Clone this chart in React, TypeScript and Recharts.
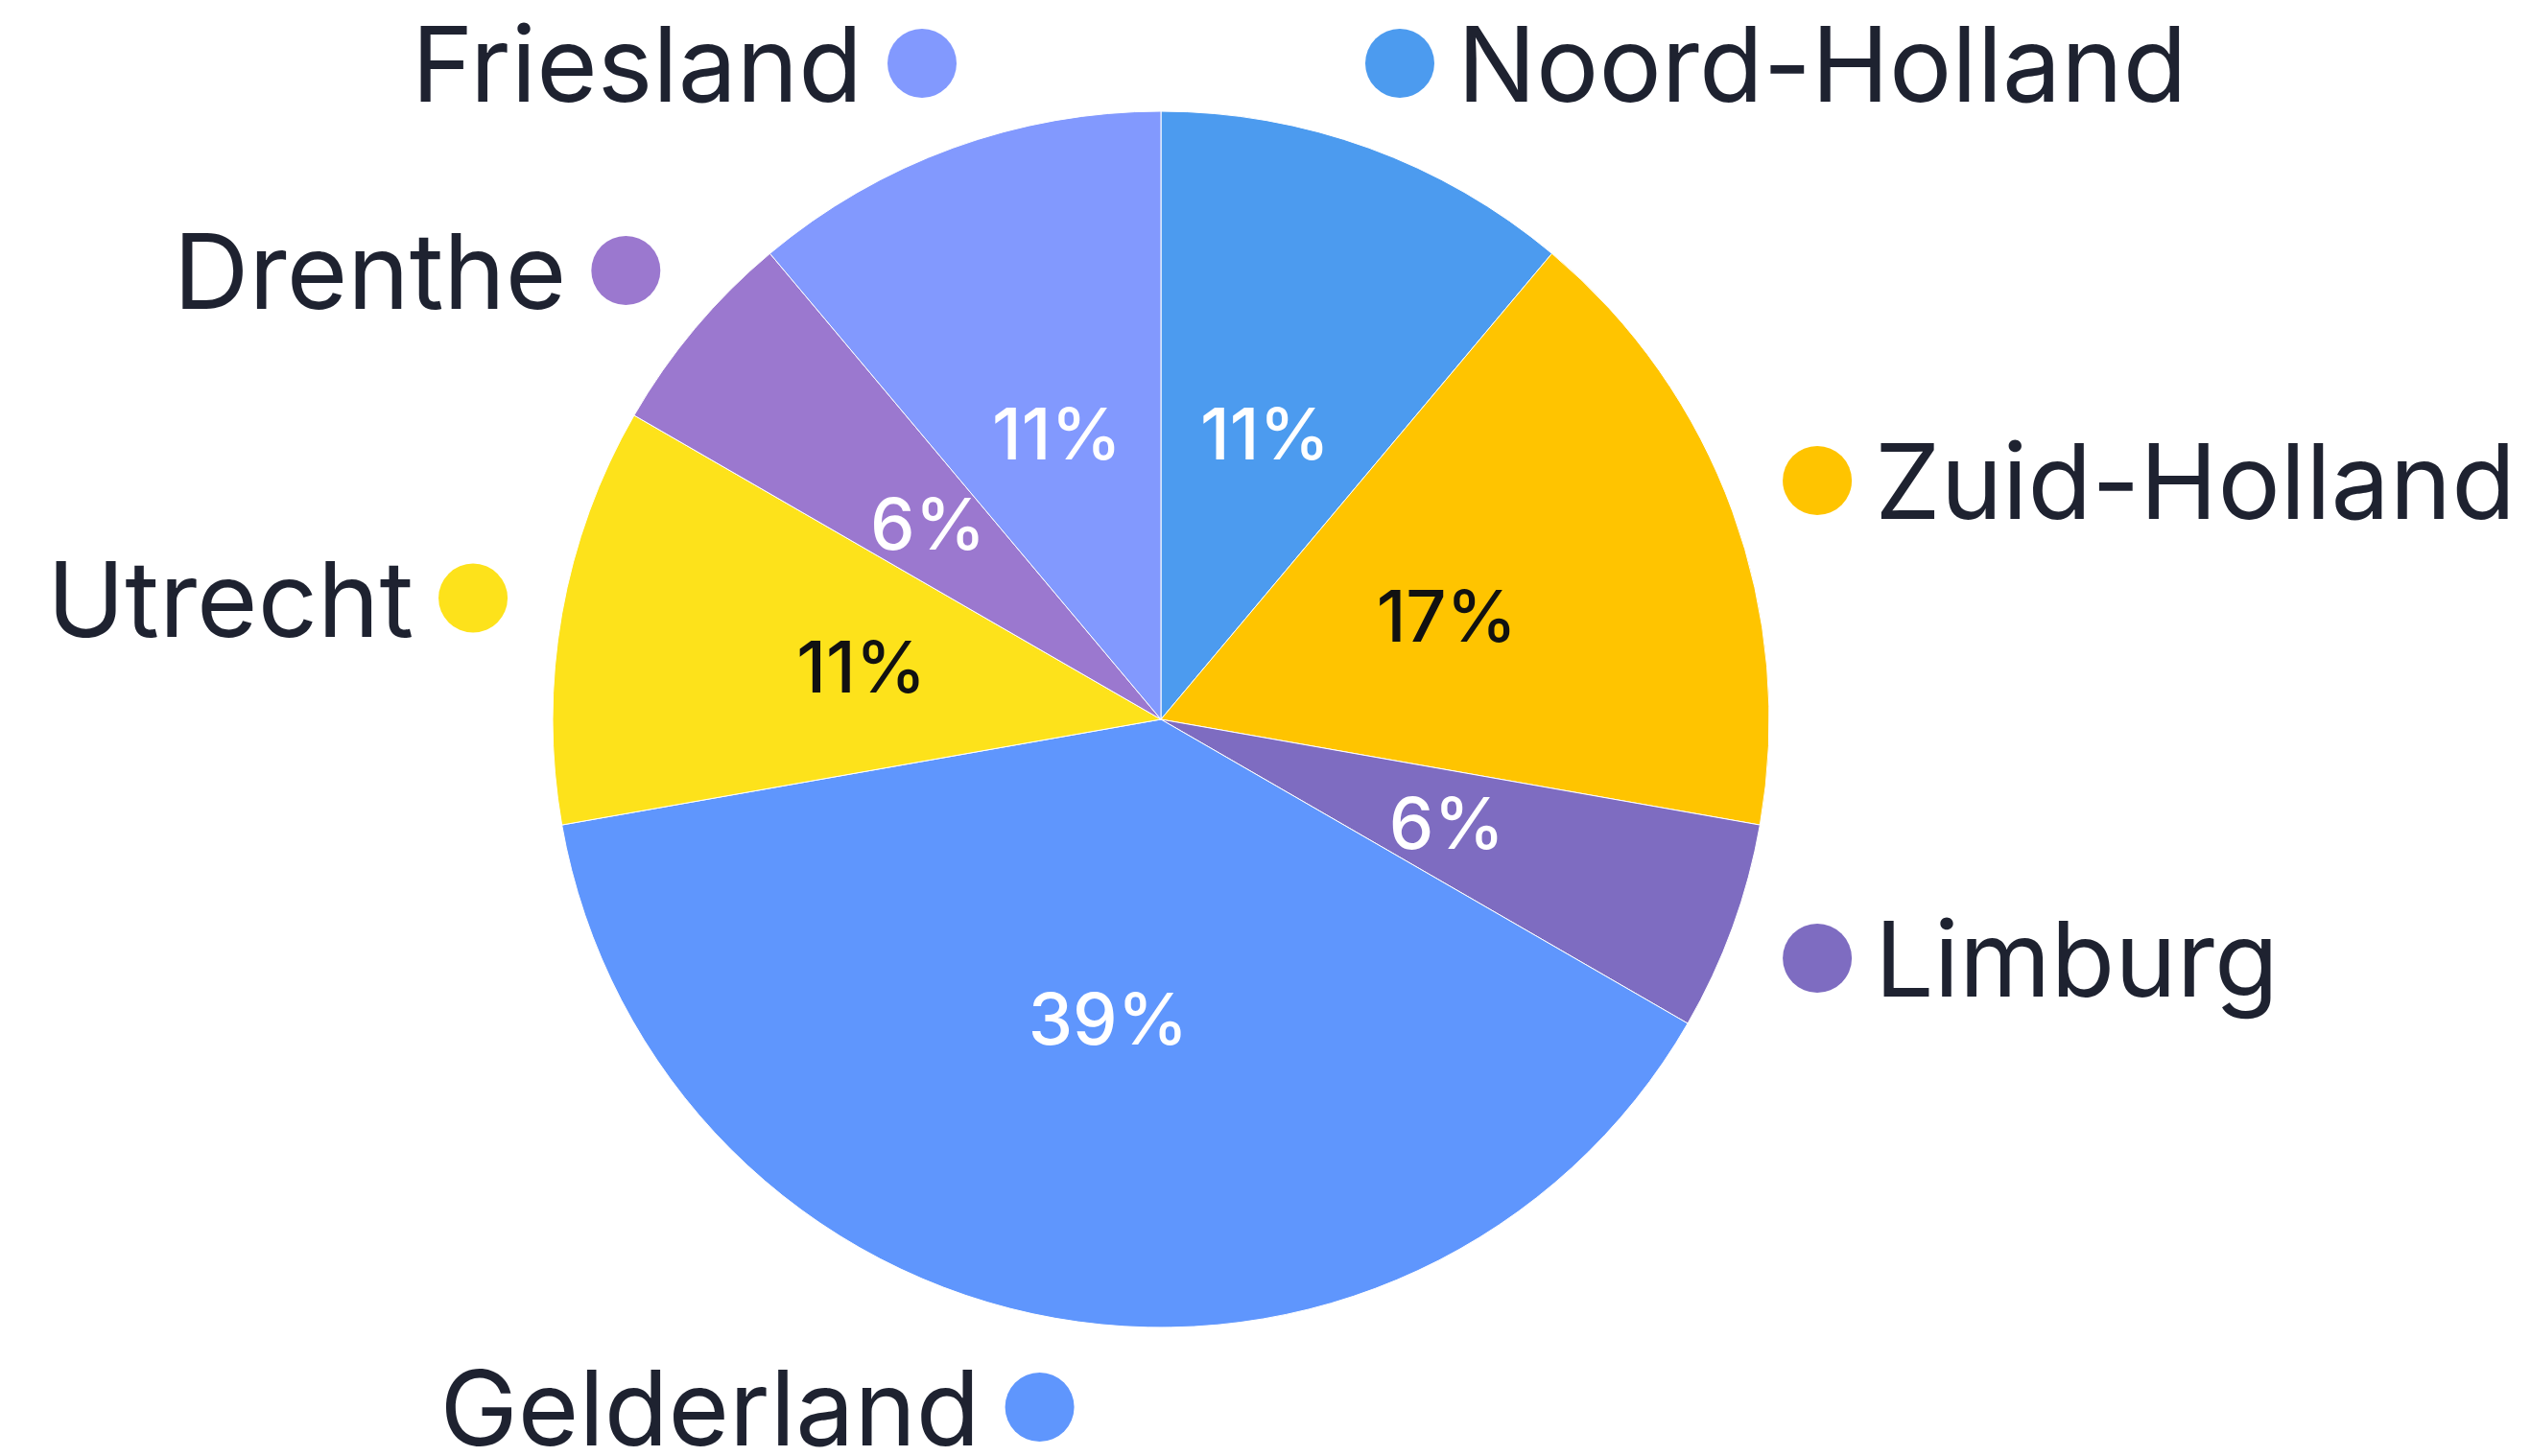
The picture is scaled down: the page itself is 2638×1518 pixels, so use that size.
import { PieChart, Pie, Cell } from "recharts"

// provinces, clockwise from 12 o'clock
const provinces = ["Noord-Holland", "Zuid-Holland", "Limburg", "Gelderland", "Utrecht", "Drenthe", "Friesland"]
const counts = [2, 3, 1, 7, 2, 1, 2]
const colors = ["#4C9BEF", "#FFC400", "#7E6CC1", "#5F96FD", "#FDE21B", "#9B78CF", "#8299FE"]
// percent text is dark on the yellow slices
const darkText = ["Zuid-Holland", "Utrecht"]

const data = provinces.map((name, i) => ({ name, value: counts[i] }))

const RAD = Math.PI / 180
const FONT = "Inter, 'Noto Sans', sans-serif"

function renderLabel(props: any) {
  const { cx, cy, midAngle, outerRadius, percent, name, index } = props
  const cos = Math.cos(-midAngle * RAD)
  const sin = Math.sin(-midAngle * RAD)

  // percentage, halfway out
  const pr = outerRadius * 0.5
  const px = cx + pr * cos
  const py = cy + pr * sin

  // dot + province name outside the pie
  const dr = outerRadius + 94
  const dx = cx + dr * cos
  const dy = cy + dr * sin
  const right = cos >= 0

  return (
    <g key={`lbl-${index}`}>
      <text
        x={px}
        y={py + 27}
        textAnchor="middle"
        fontFamily={FONT}
        fontSize={74}
        fontWeight={500}
        fill={darkText.includes(name) ? "#111111" : "#ffffff"}
      >
        {`${Math.round(percent * 100)}%`}
      </text>
      <circle cx={dx} cy={dy} r={36} fill={colors[index]} />
      <text
        x={right ? dx + 60 : dx - 62}
        y={dy + 40}
        textAnchor={right ? "start" : "end"}
        fontFamily={FONT}
        fontSize={109}
        fill="#1e2230"
      >
        {name}
      </text>
    </g>
  )
}

export default function App() {
  return (
    <div style={{ position: "absolute", left: 0, top: 0, background: "#ffffff" }}>
      <PieChart width={2638} height={1518}>
        <Pie
          data={data}
          dataKey="value"
          nameKey="name"
          cx={1205}
          cy={745}
          outerRadius={634}
          startAngle={90}
          endAngle={-270}
          stroke="#ffffff"
          strokeWidth={1}
          label={renderLabel}
          labelLine={false}
          isAnimationActive={false}
        >
          {data.map((d, i) => (
            <Cell key={d.name} fill={colors[i]} />
          ))}
        </Pie>
      </PieChart>
    </div>
  )
}
